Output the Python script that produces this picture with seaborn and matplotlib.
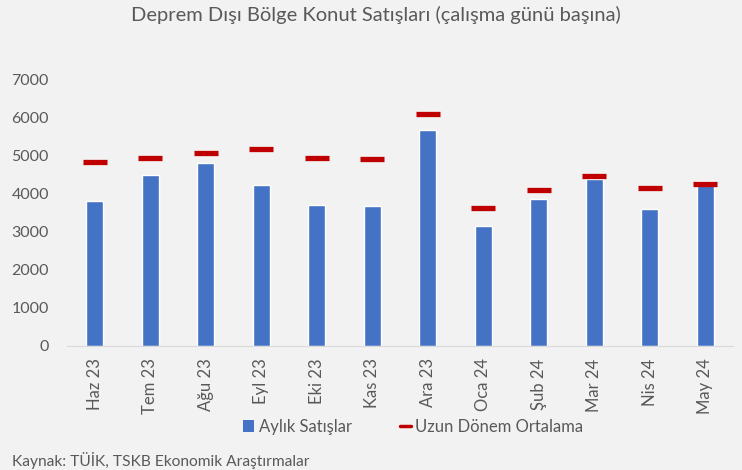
import numpy as np
import pandas as pd
import matplotlib
matplotlib.use("Agg")
import matplotlib.pyplot as plt
from matplotlib.patches import Patch
from matplotlib.lines import Line2D
import seaborn as sns

# data
months = ["Haz 23", "Tem 23", "Ağu 23", "Eyl 23", "Eki 23", "Kas 23",
          "Ara 23", "Oca 24", "Şub 24", "Mar 24", "Nis 24", "May 24"]
monthly_sales = [3820, 4510, 4820, 4240, 3710, 3690, 5690, 3150, 3870, 4380, 3600, 4340]
long_term_avg = [4840, 4950, 5080, 5190, 4950, 4920, 6090, 3630, 4110, 4470, 4160, 4250]

df = pd.DataFrame({"ay": months, "satis": monthly_sales, "ortalama": long_term_avg})

sns.set_style("white")
plt.rcParams["font.family"] = ["Lato", "DejaVu Sans"]

bg = "#f2f2f2"
grey = "#595959"
blue = "#4472c4"
red = "#c00000"
fig = plt.figure(figsize=(7.42, 4.70), dpi=100, facecolor=bg)
ax = fig.add_axes([67 / 742, 0.264, 666 / 742, 0.566], facecolor=bg)

sns.barplot(data=df, x="ay", y="satis", color=blue, width=0.306,
            saturation=1, ax=ax, legend=False)
ax.scatter(np.arange(len(months)), df["ortalama"], marker="_", s=300,
           linewidths=3.8, color=red, zorder=3)

ax.set_ylim(0, 7000)
ax.set_xlim(-0.5, len(months) - 0.5)
ax.set_yticks(range(0, 7001, 1000))
ax.set_xlabel("")
ax.set_ylabel("")
for s in ["top", "right", "left"]:
    ax.spines[s].set_visible(False)
ax.spines["bottom"].set_color("#d9d9d9")
ax.tick_params(axis="y", length=0, labelsize=11.5, labelcolor=grey, pad=13)
ax.tick_params(axis="x", which="major", length=0, labelsize=12, labelcolor=grey,
               rotation=90, pad=9)
ax.set_xticks(np.arange(-0.5, len(months), 1), minor=True)
ax.tick_params(axis="x", which="minor", length=5, color="#d9d9d9")

fig.text(0.506, 0.968, "Deprem Dışı Bölge Konut Satışları (çalışma günü başına)",
         ha="center", va="center", fontsize=14.5, color=grey)

handles = [Patch(facecolor=blue, edgecolor="none"),
           Line2D([0], [0], color=red, lw=2.5)]
leg = fig.legend(handles, ["Aylık Satışlar", "Uzun Dönem Ortalama"],
                 loc="center", bbox_to_anchor=(0.557, 0.0915), ncol=2, frameon=False,
                 fontsize=12, handlelength=0.66, handleheight=0.7,
                 handletextpad=0.25, columnspacing=2.9)
for t in leg.get_texts():
    t.set_color(grey)

fig.text(0.016, 0.021, "Kaynak: TÜİK, TSKB Ekonomik Araştırmalar",
         ha="left", va="center", fontsize=11.2, color=grey)

fig.savefig("out.png", dpi=100, facecolor=bg)
